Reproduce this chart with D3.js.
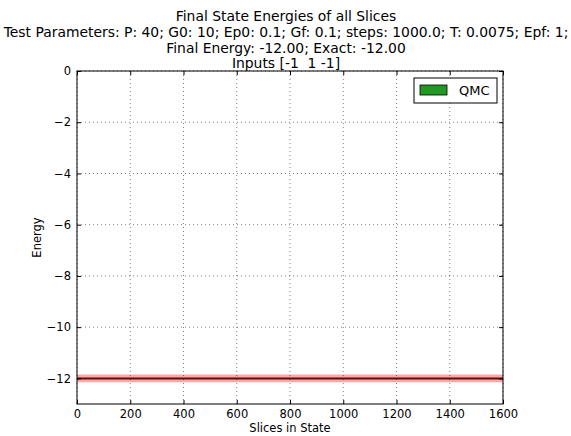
<!DOCTYPE html>
<html><head><meta charset="utf-8">
<script src="https://cdn.jsdelivr.net/npm/d3@7"></script>
<style>body{margin:0;background:#fff}svg{display:block;font-family:"DejaVu Sans",sans-serif}</style>
</head><body><svg id="c" width="571" height="436"></svg>
<script>
const titleLines = ["Final State Energies of all Slices",
 "Test Parameters: P: 40; G0: 10; Ep0: 0.1; Gf: 0.1; steps: 1000.0; T: 0.0075; Epf: 1;",
 "Final Energy: -12.00; Exact: -12.00",
 "Inputs [-1  1 -1]"];
const slices = [0, 1600];
const energies = [-12, -12];
const bandUpper = [-11.85, -11.85];
const bandLower = [-12.15, -12.15];
const startMarkSlices = [0, 4];
const startMarkEnergy = [-10, -10];
const xTicks = [0, 200, 400, 600, 800, 1000, 1200, 1400, 1600];
const yTicks = [0, -2, -4, -6, -8, -10, -12];
const legendLabels = ["QMC"];

const svg = d3.select("#c");
const m = {l:77, r:503, t:71, b:404};
const x = d3.scaleLinear().domain([0,1600]).range([m.l, m.r]);
const y = d3.scaleLinear().domain([0,-13]).range([m.t, m.b]);

// grid
const g = svg.append("g");
g.selectAll(".gx").data(xTicks).join("line").attr("x1",d=>x(d)).attr("x2",d=>x(d)).attr("y1",m.t).attr("y2",m.b)
 .attr("stroke","#000").attr("stroke-width",0.5).attr("stroke-dasharray","1,3");
g.selectAll(".gy").data(yTicks).join("line").attr("y1",d=>y(d)).attr("y2",d=>y(d)).attr("x1",m.l).attr("x2",m.r)
 .attr("stroke","#000").attr("stroke-width",0.5).attr("stroke-dasharray","1,3");

// band
const idx = d3.range(slices.length);
svg.append("path").datum(idx).attr("d", d3.area().x(i=>x(slices[i])).y0(i=>y(bandLower[i])).y1(i=>y(bandUpper[i])))
 .attr("fill","#ff0000").attr("fill-opacity",0.35);
svg.append("path").datum(idx).attr("d", d3.line().x(i=>x(slices[i])).y(i=>y(energies[i])))
 .attr("stroke","#5a1010").attr("stroke-width",2).attr("fill","none");
svg.append("path").datum(d3.range(startMarkSlices.length)).attr("d", d3.line().x(i=>x(startMarkSlices[i])).y(i=>y(startMarkEnergy[i])))
 .attr("stroke","#e03030").attr("stroke-width",1).attr("fill","none");

// axes
const ax = svg.append("g").attr("transform",`translate(0,${m.b})`).call(d3.axisBottom(x).tickValues(xTicks).tickSize(-4).tickPadding(6).tickFormat(d3.format("d")));
const ay = svg.append("g").attr("transform",`translate(${m.l},0)`).call(d3.axisLeft(y).tickValues(yTicks).tickSize(-4).tickPadding(6).tickFormat(d=>d<0?"\u2212"+Math.abs(d):d));
const axt = svg.append("g").attr("transform",`translate(0,${m.t})`).call(d3.axisTop(x).tickValues(xTicks).tickSize(-4).tickFormat(""));
const ayr = svg.append("g").attr("transform",`translate(${m.r},0)`).call(d3.axisRight(y).tickValues(yTicks).tickSize(-4).tickFormat(""));
[ax,ay,axt,ayr].forEach(a=>{a.select(".domain").remove();a.selectAll("text").attr("font-size",11.5).attr("fill","#000").attr("font-family","DejaVu Sans");a.selectAll("line").attr("stroke","#000");});
svg.append("rect").attr("x",m.l).attr("y",m.t).attr("width",m.r-m.l).attr("height",m.b-m.t).attr("fill","none").attr("stroke","#000").attr("stroke-width",1);

// labels
svg.append("text").attr("x",(m.l+m.r)/2).attr("y",432).attr("text-anchor","middle").attr("font-size",11.5).text("Slices in State");
svg.append("text").attr("transform",`translate(41,${(m.t+m.b)/2}) rotate(-90)`).attr("text-anchor","middle").attr("font-size",11.5).text("Energy");

// title
svg.selectAll(".tt").data(titleLines).join("text").attr("x",286).attr("y",(d,i)=>21+i*15.8).attr("text-anchor","middle")
 .attr("font-size",13.9).style("white-space","pre").attr("xml:space","preserve").text(d=>d);

// legend
const lg = svg.append("g");
lg.append("rect").attr("x",414).attr("y",78).attr("width",83).attr("height",25).attr("fill","#fff").attr("stroke","#000").attr("stroke-width",1);
lg.selectAll(".lp").data(legendLabels).join("rect").attr("x",420).attr("y",85).attr("width",27).attr("height",10).attr("fill","#229922").attr("stroke","#000").attr("stroke-width",0.8);
lg.selectAll(".lt").data(legendLabels).join("text").attr("x",459).attr("y",95).attr("font-size",13).text(d=>d);
</script></body></html>
